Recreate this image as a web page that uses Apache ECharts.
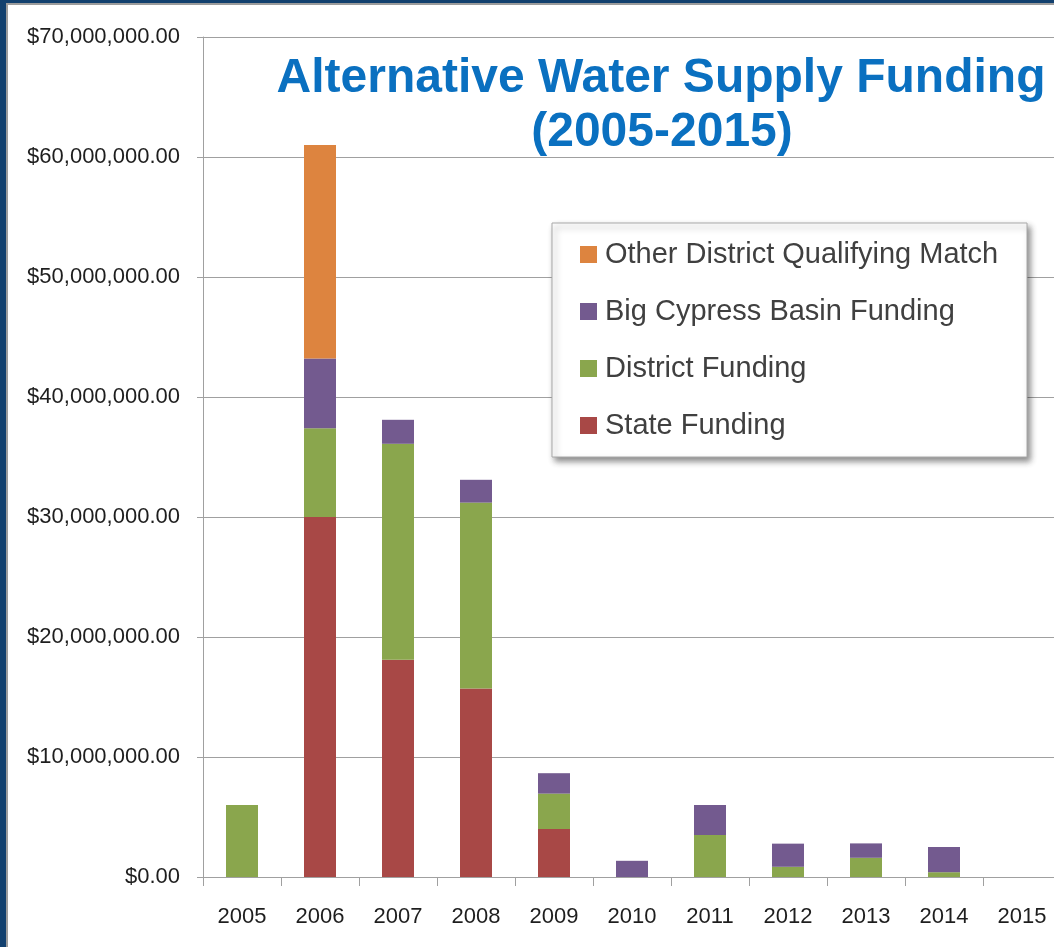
<!DOCTYPE html>
<html>
<head>
<meta charset="utf-8">
<script src="https://cdn.jsdelivr.net/npm/echarts@6/dist/echarts.min.js"></script>
<style>
html,body{margin:0;padding:0;background:#fff;}
#chart{width:1054px;height:947px;}
</style>
</head>
<body>
<div id="chart"></div>
<script>
const categories = ['2005','2006','2007','2008','2009','2010','2011','2012','2013','2014','2015'];
const stateFunding    = [0, 30000000, 18100000, 15700000, 4000000, 0, 0, 0, 0, 0, 0];
const districtFunding = [6000000, 7400000, 18000000, 15500000, 2950000, 0, 3500000, 850000, 1600000, 400000, 0];
const bigCypressFunding = [0, 5800000, 2000000, 1900000, 1700000, 1350000, 2500000, 1930000, 1200000, 2100000, 0];
const otherMatch      = [0, 17800000, 0, 0, 0, 0, 0, 0, 0, 0, 0];
const seriesNames = ['State Funding','District Funding','Big Cypress Basin Funding','Other District Qualifying Match'];
const legendOrder = ['Other District Qualifying Match','Big Cypress Basin Funding','District Funding','State Funding'];
const titleLines = ['Alternative Water Supply Funding','(2005-2015)'];

const SANS = "'Liberation Sans',Arial,sans-serif";
const colors = ['#A84846','#8AA64D','#735A8F','#DD843F'];

function money(v){
  return '$' + v.toLocaleString('en-US',{minimumFractionDigits:2,maximumFractionDigits:2});
}

const chart = echarts.init(document.getElementById('chart'), null, {renderer:'canvas'});
const dataSets = [stateFunding, districtFunding, bigCypressFunding, otherMatch];

chart.setOption({
  animation:false,
  backgroundColor:'#ffffff',
  title:[
    {text:titleLines[0], left:656, top:49, textAlign:'center',
     textStyle:{fontFamily:SANS, fontWeight:'bold', fontSize:48, color:'#0A70C0', lineHeight:50}},
    {text:titleLines[1], left:657, top:103, textAlign:'center',
     textStyle:{fontFamily:SANS, fontWeight:'bold', fontSize:48, color:'#0A70C0', lineHeight:50}}
  ],
  grid:{left:203, right:-7, top:37, bottom:70, containLabel:false, outerBoundsMode:'none'},
  legend:{
    orient:'vertical', left:580, top:240, padding:0, itemGap:28,
    itemWidth:17, itemHeight:17, icon:'rect',
    data:legendOrder, z:5,
    textStyle:{fontFamily:SANS, fontSize:29, color:'#404040', padding:[0,0,0,3]}
  },
  xAxis:{
    type:'category', data:categories,
    axisLine:{show:true, lineStyle:{color:'#a0a0a0', width:1}},
    axisTick:{show:true, length:9, lineStyle:{color:'#a0a0a0'}},
    axisLabel:{fontFamily:SANS, fontSize:22, color:'#1e1e1e', margin:29, interval:0}
  },
  yAxis:{
    type:'value', min:0, max:70000000, interval:10000000,
    axisLine:{show:true, lineStyle:{color:'#a0a0a0', width:1}},
    axisTick:{show:true, length:6, lineStyle:{color:'#a0a0a0'}},
    splitLine:{show:true, lineStyle:{color:'#a0a0a0', width:1}},
    axisLabel:{fontFamily:SANS, fontSize:22, color:'#1e1e1e', margin:23, formatter:money}
  },
  series: seriesNames.map((n,i)=>({
    name:n, type:'bar', stack:'total', barWidth:32,
    itemStyle:{color:colors[i]},
    data:dataSets[i]
  })),
  graphic:[
    {type:'rect', z:3, shape:{x:552, y:223, width:475, height:234},
     style:{fill:'#ffffff', stroke:'#a8a8a8', lineWidth:1, shadowBlur:6, shadowOffsetX:3, shadowOffsetY:4, shadowColor:'rgba(0,0,0,0.45)'}},
    {type:'rect', z:10, shape:{x:0, y:0, width:1054, height:5}, style:{fill:'#9c9c9c'}},
    {type:'rect', z:10, shape:{x:0, y:0, width:8, height:947}, style:{fill:'#9c9c9c'}},
    {type:'rect', z:11, shape:{x:0, y:0, width:1054, height:3}, style:{fill:'#12406E'}},
    {type:'rect', z:11, shape:{x:0, y:0, width:6, height:947}, style:{fill:'#12406E'}}
  ]
});
</script>
</body>
</html>
